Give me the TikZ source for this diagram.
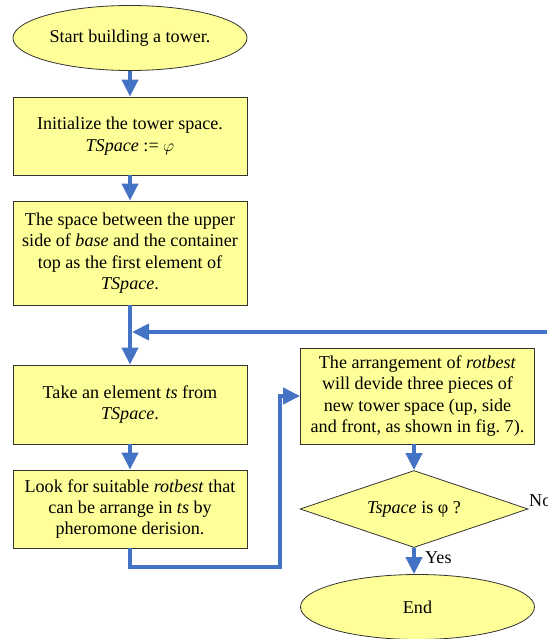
\documentclass[tikz,border=0pt]{standalone}
\usepackage{fontspec}
\setmainfont{Liberation Serif}
\usetikzlibrary{arrows.meta,shapes.geometric}
\definecolor{boxfill}{RGB}{255,255,153}
\definecolor{flowblue}{RGB}{68,114,196}
\tikzset{
  x=1pt,y=-1pt,
  every node/.style={font=\fontsize{18.1}{21.3}\selectfont},
  procbox/.style={draw=black!80,line width=0.8pt,fill=boxfill,rectangle,minimum width=234pt,align=center,inner sep=0pt},
  termbox/.style={draw=black!80,line width=0.8pt,fill=boxfill,ellipse,minimum width=234pt,minimum height=65pt,inner sep=0pt},
  decbox/.style={draw=black!80,line width=0.8pt,fill=boxfill,diamond,shape aspect=2.96,minimum width=228pt,minimum height=77pt,inner sep=0pt},
  flow/.style={draw=flowblue,line width=4pt,-{Triangle[width=16pt,length=17pt]}},
  flowline/.style={draw=flowblue,line width=4pt},
  lbl/.style={inner sep=0pt}
}
\begin{document}
\begin{tikzpicture}
\useasboundingbox (0,0) rectangle (547,639);
\clip (0,0) rectangle (547,639);
\node[termbox] (start) at (130,38) {Start building a tower.};
\node[procbox,minimum height=78pt] (init) at (130,136) {Initialize the tower space.\\ \textit{TSpace} := $\varphi$};
\node[procbox,minimum height=104pt] (first) at (130,253) {The space between the upper\\ side of \textit{base} and the container\\ top as the first element of\\ \textit{TSpace}.};
\node[procbox,minimum height=79pt] (take) at (130,404.5) {Take an element \textit{ts} from\\ \textit{TSpace}.};
\node[procbox,minimum height=78pt] (look) at (130,509) {Look for suitable \textit{rotbest} that\\ can be arrange in \textit{ts} by\\ pheromone derision.};
\node[procbox,minimum height=96pt] (arr) at (417.5,396) {The arrangement of \textit{rotbest}\\ will devide three pieces of\\ new tower space (up, side\\ and front, as shown in fig.~7).};
\node[decbox] (dec) at (414,509) {\textit{Tspace} is φ ?};
\node[termbox] (end) at (417.5,607) {End};
\node[lbl,anchor=base west] (no) at (529,506) {No};
\node[lbl,anchor=west] (yes) at (425,558) {Yes};
\coordinate (merge) at (130,332);
\coordinate (fbstart) at (547,332);
\coordinate (c1) at (130,567);
\coordinate (c2) at (280,567);
\coordinate (c3) at (280,396);
\draw[flow] (start) -- (init);
\draw[flow] (init) -- (first);
\draw[flowline] (first.south) -- (merge);
\draw[flow] (merge) -- (take.north);
\draw[flow] (fbstart) -- ([xshift=2pt]merge);
\draw[flow] (take) -- (look);
\draw[flow] (look.south) -- (c1) -- (c2) -- (c3) -- (arr.west);
\draw[flow] (arr.south -| dec.north) -- (dec.north);
\draw[flow] (dec.south) -- (end.north -| dec.south);
\end{tikzpicture}
\end{document}
